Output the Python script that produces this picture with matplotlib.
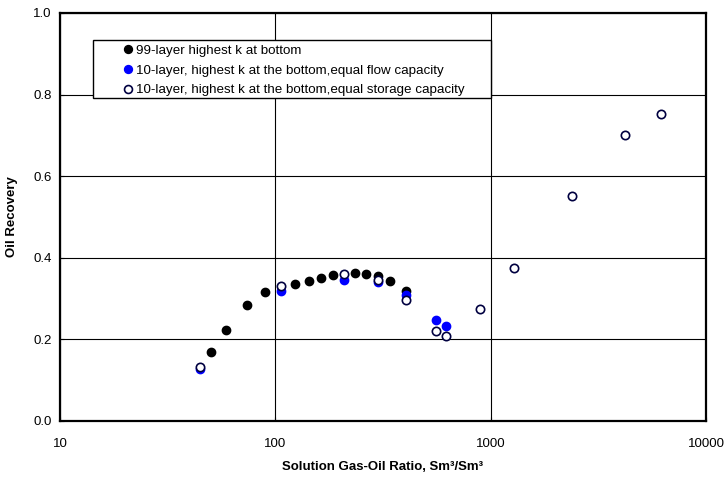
import matplotlib
matplotlib.use("Agg")
import matplotlib.pyplot as plt
from matplotlib.patches import Rectangle

plt.rcParams['font.family'] = ['Liberation Sans', 'DejaVu Sans']

# 99-layer, highest k at bottom
gor_99 = [50.2, 58.8, 73.6, 89.3, 123.8, 143.0, 163.1, 184.8, 234.5, 263.8, 299, 342, 404.6]
rec_99 = [0.169, 0.222, 0.284, 0.315, 0.335, 0.343, 0.350, 0.357, 0.362, 0.360, 0.356, 0.343, 0.319]

# 10-layer, equal flow capacity
gor_flow = [44.7, 105.9, 208.5, 299, 404.6, 559.6, 620.7]
rec_flow = [0.127, 0.319, 0.346, 0.340, 0.308, 0.247, 0.234]

# 10-layer, equal storage capacity
gor_stor = [44.7, 105.9, 208.5, 299, 404.6, 559.6, 620.7, 890, 1284, 2381, 4210, 6186]
rec_stor = [0.132, 0.331, 0.361, 0.346, 0.296, 0.221, 0.208, 0.2745, 0.375, 0.552, 0.701, 0.752]

labels = ["99-layer highest k at bottom",
          "10-layer, highest k at the bottom,equal flow capacity",
          "10-layer, highest k at the bottom,equal storage capacity"]

fig = plt.figure(figsize=(7.28, 4.79), dpi=100)
ax = fig.add_axes([0.0824, 0.1211, 0.8874, 0.8518])

ms = 6
ax.plot(gor_99, rec_99, 'o', color='black', ms=ms, label=labels[0], zorder=3)
ax.plot(gor_flow, rec_flow, 'o', color='#0000ff', ms=ms, label=labels[1], zorder=4)
ax.plot(gor_stor, rec_stor, 'o', mfc='white', mec='#000040', mew=1.2, ms=ms, label=labels[2], zorder=5)

ax.set_xscale('log')
ax.set_xlim(10, 10000)
ax.set_ylim(0, 1.0)
ax.set_yticks([0.0, 0.2, 0.4, 0.6, 0.8, 1.0])
ax.set_yticklabels(["0.0", "0.2", "0.4", "0.6", "0.8", "1.0"])
ax.set_xticks([10, 100, 1000, 10000])
ax.set_xticklabels(["10", "100", "1000", "10000"])
ax.minorticks_off()

ax.grid(True, color='black', linewidth=0.8)
ax.set_axisbelow(True)
for s in ax.spines.values():
    s.set_linewidth(1.6)
ax.tick_params(axis='both', direction='in', length=3, labelsize=9.5)
ax.tick_params(axis='x', pad=12)
ax.tick_params(axis='y', pad=6)

ax.set_xlabel("Solution Gas-Oil Ratio, Sm³/Sm³", fontsize=9.5, fontweight='bold', labelpad=8.5)
ax.set_ylabel("Oil Recovery", fontsize=9.5, fontweight='bold', labelpad=11)

# legend box
ax.add_patch(Rectangle((0.051, 0.792), 0.616, 0.142, transform=ax.transAxes,
                       facecolor='white', edgecolor='black', linewidth=1.0, zorder=6))
leg = ax.legend(loc='upper left', bbox_to_anchor=(0.085, 0.945), frameon=False,
                fontsize=9.6, handlelength=0.6, handletextpad=0.25, labelspacing=0.55,
                borderpad=0.2, markerscale=0.95)
leg.set_zorder(7)

fig.savefig("out.png", dpi=100)
